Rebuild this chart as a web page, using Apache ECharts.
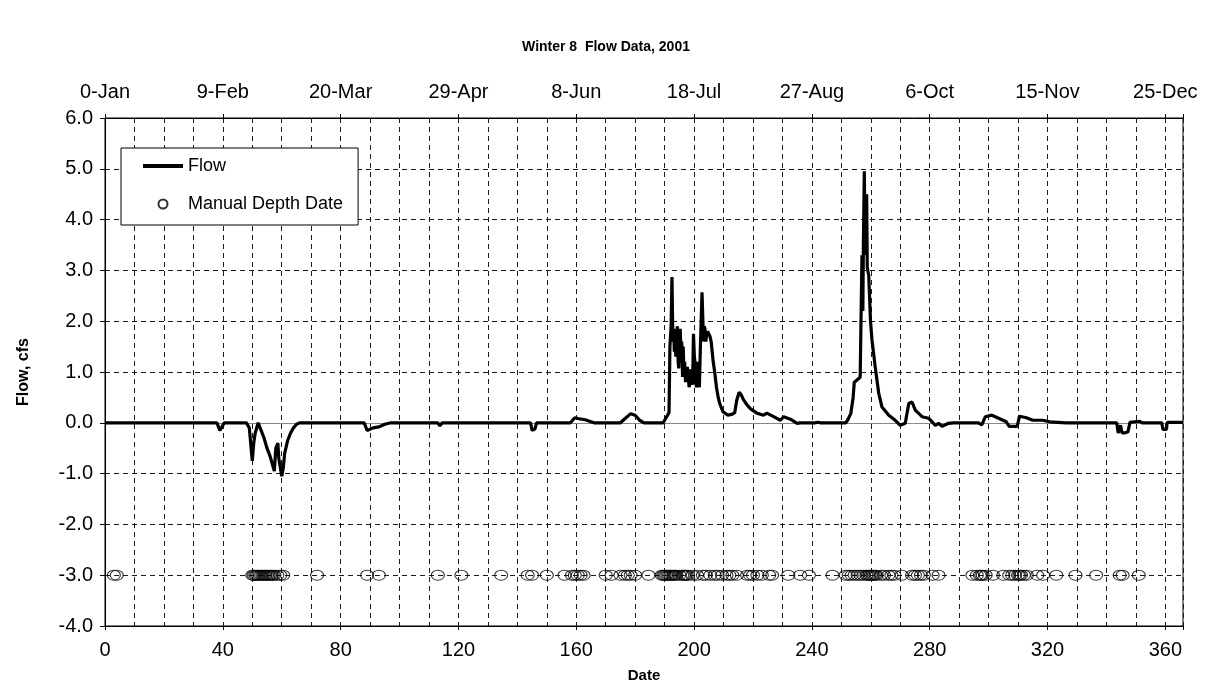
<!DOCTYPE html>
<html>
<head>
<meta charset="utf-8">
<script src="https://cdn.jsdelivr.net/npm/echarts@6/dist/echarts.min.js"></script>
<style>
html,body{margin:0;padding:0;background:#fff;}
#chart{width:1212px;height:697px;}
</style>
</head>
<body>
<div id="chart"></div>
<script>
// ---- data ----
const flowDays = [0,38,39,40,40.5,48,49,50,50.5,51,52,53,54,55,56,57,57.5,58,58.7,59,60,60.5,61,62,63,64,65,66,
  88,89,91,93,95,97,113,113.7,114.5,144.5,145,146,146.5,158,159.5,161,163,165,166,175,176.5,178.5,180,181.5,183,
  189.5,190.5,191.5,191.8,192.2,192.5,192.8,193.1,193.3,193.6,193.8,194.1,194.3,194.6,194.8,195.1,195.3,195.6,195.8,
  196.1,196.3,196.6,196.8,197.1,197.3,197.7,198,198.3,198.5,198.8,199,199.3,199.5,
  199.8,200.1,200.3,200.6,200.8,201.1,201.3,201.6,201.8,202.1,202.3,202.7,203.0,203.2,203.5,203.7,204.0,204.2,204.6,205,205.4,205.8,206.5,207,207.6,208.2,208.7,209.8,211.5,213,
  213.8,214.5,215.3,216,216.8,218,219.1,221.3,223.6,224.7,227,229.3,230.4,232.7,235,236,241,242,243,251.5,252.1,253.2,
  254,254.4,255.5,256.4,257,257.3,257.5,257.8,258.1,258.3,258.6,258.8,259.3,259.9,260.4,261.5,262.7,263.8,266.1,268.3,270,271.7,
  272.9,274,275.1,277.4,279.6,280.8,281.9,283,284.2,286.4,288,296.5,297.7,298.9,301.1,303.4,306,307,309.7,310.5,312.8,
  315,318.4,320.7,326.4,343.5,344,344.8,345.3,346,347.3,348,348.4,351.3,352,358.8,359.2,360.4,360.6,366];
const flowValues = [0,0,-0.15,-0.05,0,0,-0.1,-0.75,-0.4,-0.2,0,-0.15,-0.3,-0.5,-0.65,-0.85,-0.95,-0.5,-0.4,-0.7,-1.05,-0.9,-0.6,-0.35,-0.2,-0.1,-0.03,0,
  0,-0.15,-0.1,-0.08,-0.03,0,0,-0.06,0,0,-0.15,-0.12,0,0,0.1,0.08,0.06,0.02,0,0,0.08,0.18,0.15,0.05,0,
  0,0.1,0.2,1.5,1.9,2.87,1.6,1.85,1.4,1.8,1.3,1.7,1.9,1.2,1.07,1.6,1.85,1.3,1.6,
  0.9,1.5,0.95,1.2,0.8,0.77,1.1,0.95,0.7,0.75,1.05,1.0,0.8,0.75,
  1.75,1.3,1.2,0.8,0.7,1.2,1.1,0.75,0.7,1.4,1.8,2.57,2.0,1.6,1.9,1.85,1.6,1.7,1.8,1.75,1.7,1.6,1.2,1.0,0.7,0.5,0.38,0.22,0.15,0.17,
  0.2,0.45,0.6,0.55,0.45,0.35,0.28,0.19,0.15,0.19,0.12,0.05,0.12,0.07,-0.01,0,0,0.01,0,0,0.05,0.18,
  0.5,0.8,0.85,0.9,3.3,2.2,3.6,4.95,3.4,3.3,4.5,3.05,2.9,2.0,1.63,1.1,0.58,0.31,0.15,0.05,-0.05,-0.01,
  0.38,0.41,0.25,0.12,0.09,0.02,-0.05,-0.01,-0.07,-0.01,0,0,-0.04,0.12,0.15,0.09,0.02,-0.07,-0.07,0.13,0.1,
  0.05,0.05,0.02,0,0,-0.2,-0.05,-0.2,-0.2,-0.18,0.01,0.03,0.03,0,0,-0.13,-0.13,0.01,0.01];
const manualDays = [3,4,50,50.5,51,51.5,52,52.5,53,53.5,54,54.5,55,55.5,56,56.5,57,57.5,58.5,59.5,60.5,72,89,93,113,121,
  134.5,143.5,145,150,156,158.5,159.5,160.5,161.5,162.5,170,172,175,176.5,177.5,178.5,180,184.5,189,189.5,190,190.5,191,
  191.5,192,192.5,193,193.5,194,195,196,196.5,197,197.5,198,199.5,201,203,204,205.5,207,208,209.5,211,212,213,214.5,218,
  219,220,221.5,223,225.5,226.5,232,236,239,247,251.5,252.5,253.5,254.5,255.5,256.5,257.5,258.5,259,259.5,260,260.5,261,
  261.5,262,263.5,264.5,266,267,268,270.5,274,275,276,277,278,281,283,294.5,296,297,297.5,298,299,301.5,305,307,308,309,
  310,310.5,311,312,313,316.5,318.5,323,329.5,336.5,344.5,345.5,351];
const manualLevel = -3.0;
const topTickLabels = ['0-Jan','9-Feb','20-Mar','29-Apr','8-Jun','18-Jul','27-Aug','6-Oct','15-Nov','25-Dec'];
const bottomTickLabels = ['0','40','80','120','160','200','240','280','320','360'];

// ---- chart ----
const FONT = '"Liberation Sans", Arial, sans-serif';
const chart = echarts.init(document.getElementById('chart'), null, {renderer:'canvas'});
const gridLine = {show:true, lineStyle:{color:'#1a1a1a', width:1, type:[5,4]}};
const flowData = flowDays.map((d,i)=>[d, flowValues[i]]);
const manualData = manualDays.map(d=>[d, manualLevel]);

chart.setOption({
  backgroundColor:'#fff',
  animation:false,
  title:{text:'Winter 8  Flow Data, 2001', left:'center', top:35,
    textStyle:{fontFamily:FONT, fontSize:14, fontWeight:'bold', color:'#000'}},
  grid:{left:105, right:29, top:118, bottom:71, show:true, borderColor:'#000', borderWidth:1, backgroundColor:'transparent'},
  legend:{orient:'vertical', left:121, top:148, padding:[9,15,12,20], itemWidth:40, itemHeight:9, itemGap:20,
    backgroundColor:'#fff', borderColor:'#000', borderWidth:1, borderRadius:0,
    textStyle:{fontFamily:FONT, fontSize:18, color:'#000'},
    data:[
      {name:'Flow', itemStyle:{color:'rgba(0,0,0,0)', borderWidth:0, opacity:0}, lineStyle:{color:'#000', width:4}},
      {name:'Manual Depth Date'}
    ]},
  xAxis:[
    {type:'value', position:'bottom', min:0, max:366, interval:40,
      name:'Date', nameLocation:'middle', nameGap:42,
      nameTextStyle:{fontFamily:FONT, fontSize:15, fontWeight:'bold', color:'#000'},
      axisLine:{onZero:false, lineStyle:{color:'#000', width:1}},
      axisTick:{show:true, length:4, lineStyle:{color:'#000'}},
      axisLabel:{fontFamily:FONT, fontSize:20, color:'#000', margin:14,
        formatter:v=> (v%40===0 ? bottomTickLabels[v/40] : '')},
      splitLine:{show:false}},
    {type:'value', position:'top', min:0, max:366, interval:40,
      axisLine:{onZero:false, lineStyle:{color:'#000', width:1}},
      axisTick:{show:true, length:4, lineStyle:{color:'#000'}},
      axisLabel:{fontFamily:FONT, fontSize:20, color:'#000', margin:16,
        formatter:v=> (v%40===0 ? topTickLabels[v/40] : '')},
      splitLine:{show:false}},
    {type:'value', position:'bottom', min:0, max:366, interval:10,
      axisLine:{show:true, onZero:true, lineStyle:{color:'#888', width:1}},
      axisTick:{show:false}, axisLabel:{show:false},
      splitLine:gridLine}
  ],
  yAxis:{type:'value', min:-4, max:6, interval:1,
    name:'Flow, cfs', nameLocation:'middle', nameGap:73, nameRotate:90,
    nameTextStyle:{fontFamily:FONT, fontSize:16, fontWeight:'bold', color:'#000'},
    axisLine:{show:true, onZero:false, lineStyle:{color:'#000', width:1}},
    axisTick:{show:true, length:5, lineStyle:{color:'#000'}},
    axisLabel:{fontFamily:FONT, fontSize:20, color:'#000', margin:12, formatter:v=>v.toFixed(1)},
    splitLine:gridLine},
  series:[
    {name:'Flow', type:'line', xAxisIndex:0, data:flowData, showSymbol:false, symbol:'none',
      lineStyle:{color:'#000', width:3.2}, itemStyle:{color:'#000'}, z:5},
    {name:'Manual Depth Date', type:'scatter', xAxisIndex:0, data:manualData, symbol:'circle', symbolSize:[13,10],
      itemStyle:{color:'rgba(255,255,255,0)', borderColor:'#000', borderWidth:1}, z:4}
  ]
});
</script>
</body>
</html>
